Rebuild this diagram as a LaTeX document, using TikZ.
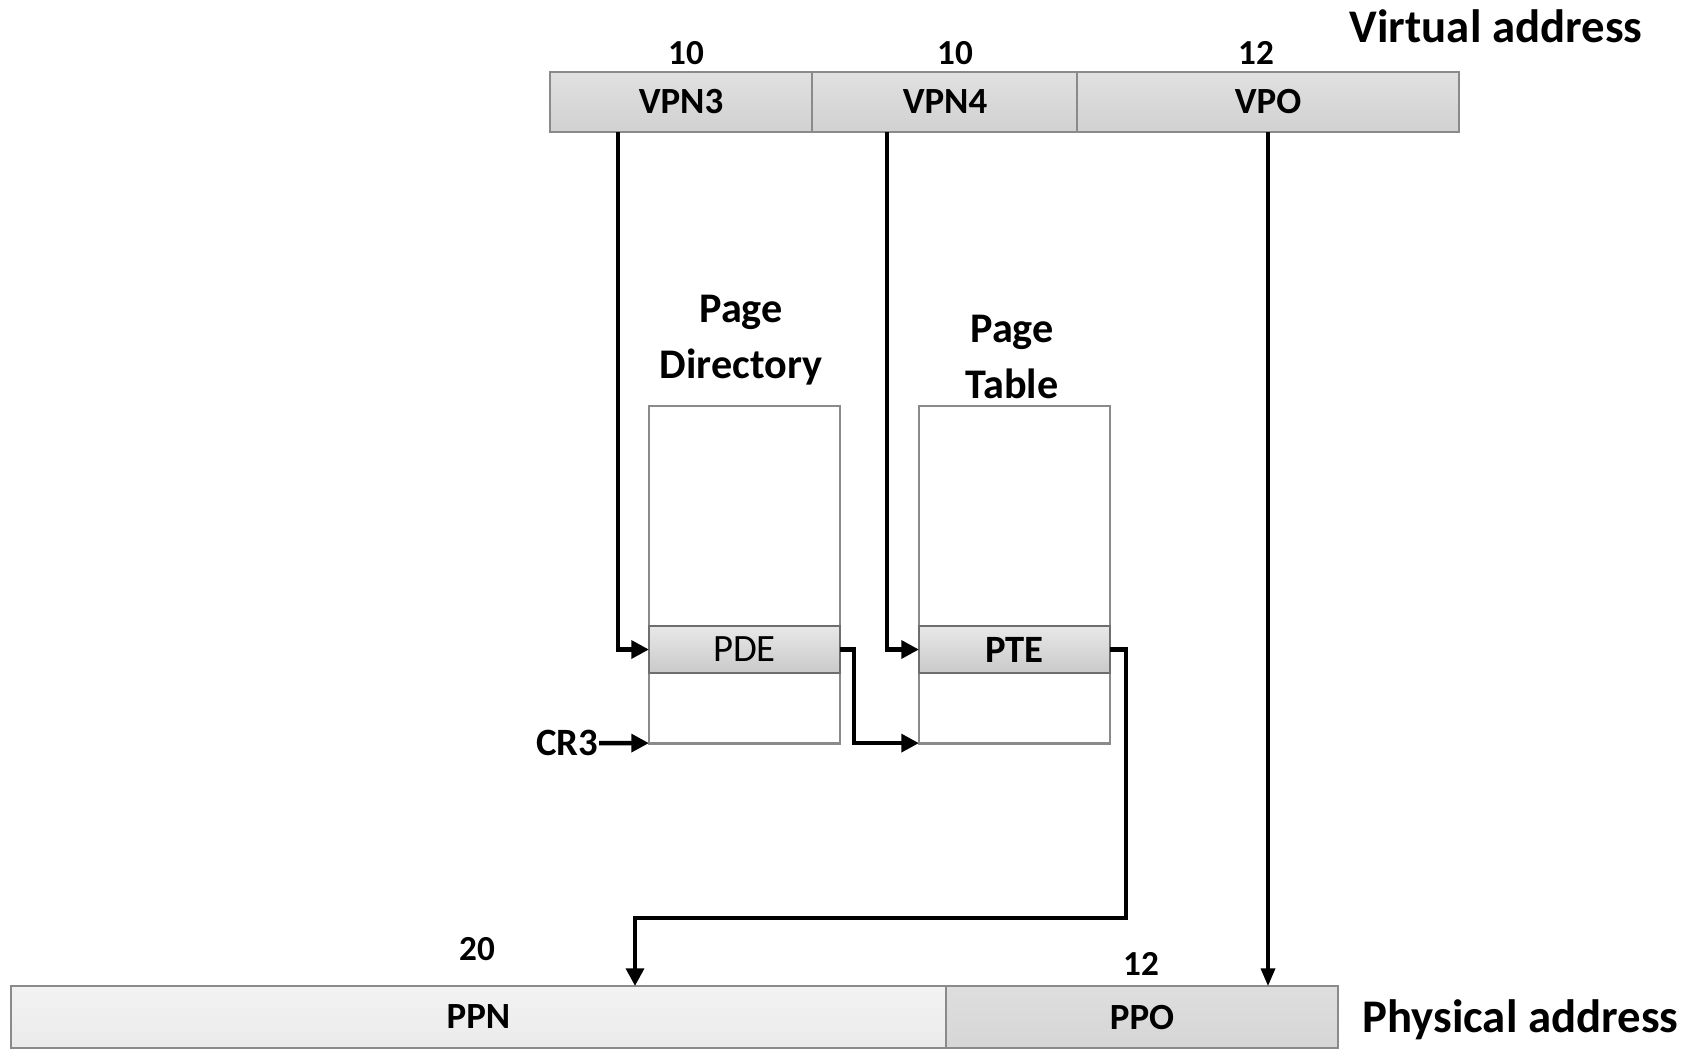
\documentclass[tikz,border=0pt]{standalone}
\usepackage{fontspec}
\setmainfont{Carlito}
\usetikzlibrary{arrows.meta,positioning}

\definecolor{edgegray}{HTML}{8A8A8A}
\tikzstyle{field} = [rectangle,draw=edgegray,line width=0.6pt,inner sep=0pt,outer sep=0pt,minimum height=0.6cm,top color=gray!24,bottom color=gray!36,font=\fontsize{10.5}{12}\selectfont\bfseries]
\tikzstyle{table} = [rectangle,draw=edgegray,line width=0.8pt,inner sep=0pt,outer sep=0pt,minimum width=1.91cm,minimum height=3.37cm]
\tikzstyle{entry} = [rectangle,draw=edgegray!80!black,line width=0.6pt,inner sep=0pt,outer sep=0pt,minimum width=1.91cm,minimum height=0.47cm,top color=gray!18,bottom color=gray!42,font=\fontsize{11}{13}\selectfont,text depth=-0.08cm]
\tikzstyle{bits} = [font=\fontsize{10}{12}\selectfont\bfseries]
\tikzstyle{title} = [font=\fontsize{12}{16}\selectfont\bfseries,align=center]
\tikzstyle{big} = [font=\fontsize{13.3}{16}\selectfont\bfseries,inner sep=0pt]
\tikzstyle{arr} = [-{Triangle[length=5pt,width=5pt]},line width=1.3pt]
\tikzstyle{arrthin} = [-{Triangle[length=5pt,width=4pt]},line width=0.9pt]

\begin{document}
\begin{tikzpicture}[x=0.01cm,y=-0.01cm]
	\useasboundingbox (0,0) rectangle (1701,1048);
	% virtual address
	\node[field,minimum width=2.62cm] (vpn3) at (681,102) {VPN3};
	\node[field,minimum width=2.65cm] (vpn4) at (945,102) {VPN4};
	\node[field,minimum width=3.82cm] (vpo) at (1268,102) {VPO};
	\node[bits] at (686,53) {10};
	\node[bits] at (955,53) {10};
	\node[bits] at (1256,53) {12};
	\node[big,anchor=east] at (1643,26) {Virtual address};
	% tables
	\node[table] (pd) at (744.5,574.5) {};
	\node[entry] (pde) at (744.5,649.5) {PDE};
	\node[title] at (741,340) {Page\\Directory};
	\node[table] (pt) at (1014.5,574.5) {};
	\node[entry,font=\fontsize{11}{13}\selectfont\bfseries] (pte) at (1014.5,649.5) {PTE};
	\node[title] at (1012,357) {Page\\Table};
	\node[bits,font=\fontsize{11}{13}\selectfont\bfseries,anchor=east,inner sep=0pt] (cr3) at (599,743) {CR3};
	% physical address
	\node[field,minimum width=9.35cm,minimum height=0.62cm,top color=gray!10,bottom color=gray!16] (ppn) at (478.5,1017) {PPN};
	\node[field,minimum width=3.92cm,minimum height=0.62cm,top color=gray!26,bottom color=gray!32] (ppo) at (1142,1017) {PPO};
	\node[bits] at (477,949) {20};
	\node[bits] at (1141,964) {12};
	\node[big,anchor=east] at (1679,1020) {Physical address};
	% connectors
	\coordinate (bend) at (635,918);
	\draw[arr] ([xshift=-0.63cm]vpn3.south) |- (pde.west);
	\draw[arr] ([xshift=-0.58cm]vpn4.south) |- (pte.west);
	\draw[arrthin] (vpo.south) -- (vpo.south |- ppo.north);
	\draw[arr] (pde.east) -- ++(14,0) |- (pt.south west);
	\draw[arr] (pte.east) -- ++(16,0) |- (bend) -- (bend |- ppn.north);
	\draw[arr] (cr3) -- (pd.south west);
\end{tikzpicture}
\end{document}
